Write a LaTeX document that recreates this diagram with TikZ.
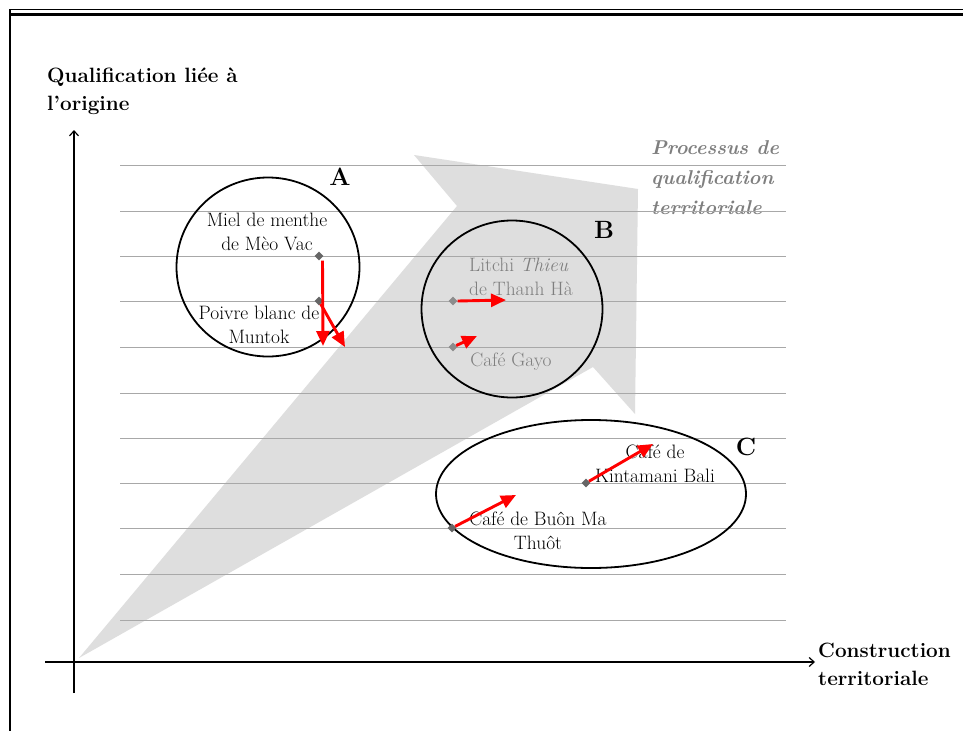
\documentclass[tikz,border=0pt]{standalone}
\usepackage{fontspec}
\usetikzlibrary{shapes.geometric,arrows.meta}
\definecolor{gridgrey}{HTML}{A8A8A8}
\definecolor{procgrey}{HTML}{DEDEDE}
\definecolor{labgrey}{HTML}{7F7F7F}
\definecolor{dotdark}{HTML}{666666}
\definecolor{dotlight}{HTML}{8C8C8C}
\definecolor{arrred}{HTML}{FF0000}
\begin{document}
\begin{tikzpicture}[x=1pt,y=-1pt,
  gridline/.style={draw=gridgrey,line width=1pt},
  axisline/.style={draw=black,line width=1.2pt,-{Straight Barb[length=5pt,width=9pt]}},
  zone/.style={draw=black,line width=1.8pt,ellipse,inner sep=0pt},
  dotmark/.style={diamond,fill=dotdark,minimum size=9pt,inner sep=0pt},
  dotmarkl/.style={dotmark,fill=dotlight},
  evol/.style={draw=arrred,line width=2.9pt,-{Triangle[length=15pt,width=13pt]}},
  lab/.style={font=\fontsize{19.4}{24}\selectfont,align=center,inner sep=0pt},
  labg/.style={lab,text=labgrey},
  zonename/.style={font=\fontsize{25}{30}\selectfont\bfseries,inner sep=0pt},
  axtitle/.style={font=\fontsize{20.7}{28}\selectfont\bfseries,align=left,inner sep=0pt,anchor=west},
]
\useasboundingbox (0,0) rectangle (963,731);
\fill[white] (0,0) rectangle (963,731);
% frame
\draw[line width=1pt] (10,9.5) -- (963,9.5);
\draw[line width=2.2pt] (10,14.5) -- (963,14.5);
\draw[line width=2pt] (10,9) -- (10,731);
% process arrow
\fill[procgrey] (79,658) -- (457,206) -- (414,155) -- (638,189) -- (635,414) -- (593,367) -- cycle;
\node[font=\fontsize{20}{30}\selectfont\bfseries\itshape,text=labgrey,align=left,anchor=west,inner sep=0pt] (proc) at (651,178) {Processus de\\qualification\\territoriale};
% grid
\foreach \yy in {165,211,256,301,347,393,438,483,528,574,620}
  \draw[gridline] (120,\yy) -- (786,\yy);
% axes
\coordinate (yb) at (74,693);
\coordinate (yt) at (74,130);
\coordinate (xl) at (45,662);
\coordinate (xr) at (815,662);
\draw[axisline] (yb) -- (yt);
\draw[axisline] (xl) -- (xr);
\node[axtitle] (ytitle) at (47,91) {Qualification liée à\\l’origine};
\node[axtitle] (xtitle) at (818,664) {Construction\\territoriale};
% zones
\node[zone,minimum width=183pt,minimum height=179pt] (zA) at (268,267) {};
\node[zone,minimum width=181pt,minimum height=177pt] (zB) at (512,309) {};
\node[zone,minimum width=310pt,minimum height=148pt] (zC) at (591,494) {};
\node[zonename] (nA) at (340,177) {A};
\node[zonename] (nB) at (604,230) {B};
\node[zonename] (nC) at (746,447) {C};
% labels
\node[lab] (lMiel) at (267,232) {Miel de menthe\\de Mèo Vac};
\node[lab] (lPoivre) at (259,325) {Poivre blanc de\\Muntok};
\node[labg,align=left,anchor=west] (lLitchi) at (469,277) {Litchi \textit{Thieu}\\de Thanh Hà};
\node[labg,anchor=base] (lGayo) at (511,366) {Café Gayo};
\node[lab] (lKinta) at (655,464) {Café de\\Kintamani Bali};
\node[lab] (lBuon) at (538,531) {Café de Buôn Ma\\Thuôt};
% markers
\node[dotmark] (dMiel) at (319,256) {};
\node[dotmark] (dPoivre) at (319,301) {};
\node[dotmarkl] (dLitchi) at (453,301) {};
\node[dotmarkl] (dGayo) at (453,347) {};
\node[dotmark] (dKinta) at (586,483) {};
\node[dotmark] (dBuon) at (452,528) {};
% evolution arrows
\coordinate (eMiel) at (323,346);
\coordinate (ePoivre) at (345,347);
\coordinate (eLitchi) at (506,300);
\coordinate (eGayo) at (477,336);
\coordinate (eKinta) at (653,444);
\coordinate (eBuon) at (516,495);
\draw[evol] ([xshift=3.5pt]dMiel.south) -- (eMiel);
\draw[evol] (dPoivre) -- (ePoivre);
\draw[evol] (dLitchi.east) -- (eLitchi);
\draw[evol] (dGayo) -- (eGayo);
\draw[evol] (dKinta) -- (eKinta);
\draw[evol] (dBuon) -- (eBuon);
\end{tikzpicture}
\end{document}
